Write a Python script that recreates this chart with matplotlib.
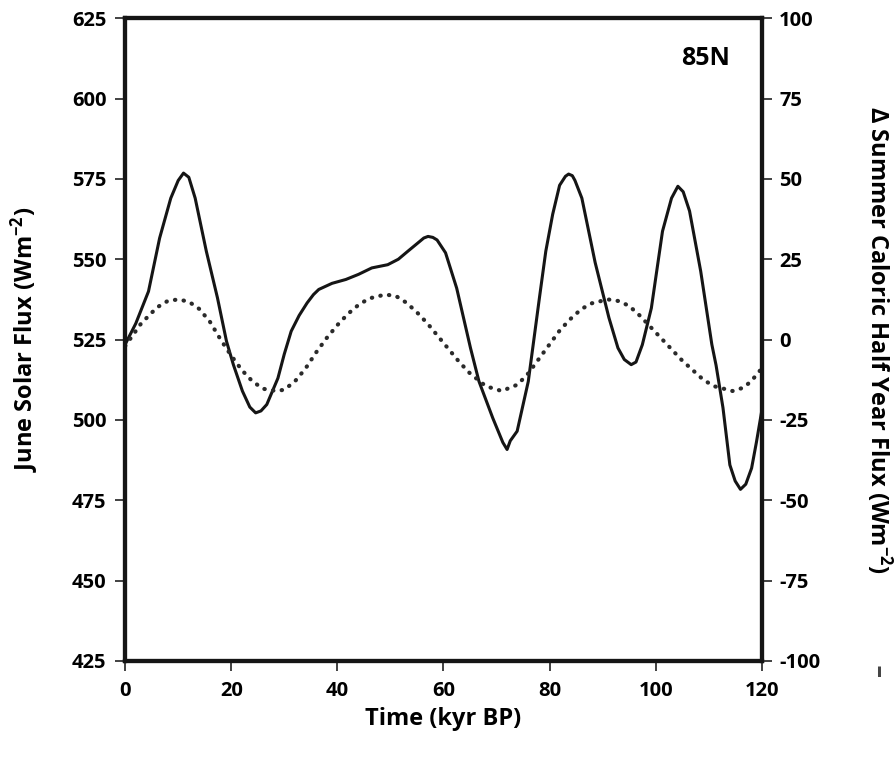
import matplotlib
matplotlib.use("Agg")
import matplotlib.pyplot as plt

plt.rcParams['font.family'] = ['Open Sans', 'DejaVu Sans']
plt.rcParams['font.weight'] = 'bold'
plt.rcParams['mathtext.default'] = 'regular'
plt.rcParams['axes.unicode_minus'] = False

# June solar flux at 85N (left axis)
june_kyr = [0, 2, 4.4, 6.5, 8.6, 10, 11.0, 12, 13.2, 15.3, 17.4, 19.1, 20.4, 22.1,
            23.5, 24.6, 25.6, 26.7, 28.8, 30, 31.3, 32.8, 34.3, 35.5, 36.5, 39,
            41.6, 44, 46.5, 49.5, 51.5, 53.3, 55.5, 56.3, 57.1, 58, 58.8, 60.4, 62.5,
            65.1, 66.7, 69.3, 71.2, 72.0, 72.6, 73.9, 76, 78.1, 79.3, 80.6, 81.9,
            83, 83.6, 84.3, 84.8, 86.1, 88.6, 91.2, 92.9, 94.1, 95.4, 96.3, 97.5,
            99.2, 101.3, 103, 104.2, 105.2, 106.4, 108.5, 110.6, 111.4, 112.7, 114,
            115, 116, 117, 118.1, 119, 120]
june_flux = [523.5, 530, 540, 556.6, 569, 574.5, 576.8, 575.5, 569, 552.5, 538, 524.5,
             517.2, 509, 504, 502.2, 502.8, 504.8, 513, 520.5, 527.6, 532.5, 536.4,
             539, 540.6, 542.5, 543.7, 545.3, 547.3, 548.3, 550, 552.5, 555.5, 556.6,
             557.1, 556.8, 556, 552, 541, 522.4, 512, 500.6, 493, 490.8, 493.5,
             496.5, 512, 538, 552.5, 564, 573, 575.8, 576.5, 576, 574.5, 569, 549,
             531.8, 522.4, 518.8, 517.2, 518, 523.4, 534.8, 558.7, 569, 572.7, 571,
             565, 546.3, 523.5, 517, 503.8, 486, 481, 478.4, 480, 485, 493, 502.7]

# delta summer caloric half year flux (right axis)
cal_kyr = [0, 3, 6, 8, 10, 12, 14, 16, 18, 20, 22, 24, 26, 28.5, 30, 32, 34, 36, 38,
           40, 42, 44, 46, 49, 51, 53, 55, 57, 59, 61, 63, 65, 68, 71, 74, 76, 78, 80,
           82, 84, 86, 88, 91, 93, 95, 97, 99, 101, 103, 105, 107, 109, 111, 114.5,
           116.5, 118, 120]
cal_flux = [-2, 5, 10, 12, 12.5, 11.8, 9.5, 5.5, 0, -5, -9.5, -13, -15.3, -16, -15.6,
            -13, -9, -4, 0.5, 4.5, 8, 10.8, 12.8, 14, 13.6, 11.5, 8.5, 5, 1, -3, -7,
            -10.5, -14.5, -16, -14, -10.5, -6, -1.5, 3, 6.5, 9.5, 11.3, 12.5, 12,
            10.5, 7.5, 4, 0.5, -3, -6.5, -9.5, -12.5, -14.5, -16, -15, -13, -9]

x_ticks = [0, 20, 40, 60, 80, 100, 120]
left_ticks = [425, 450, 475, 500, 525, 550, 575, 600, 625]
right_ticks = [-100, -75, -50, -25, 0, 25, 50, 75, 100]

fig = plt.figure(figsize=(8.94, 7.58), dpi=100)
ax = fig.add_axes([0.140, 0.128, 0.712, 0.848])
ax2 = ax.twinx()

ax.plot(june_kyr, june_flux, color='#151515', lw=2.2, solid_joinstyle='round')
ax2.plot(cal_kyr, cal_flux, color='#2a2a2a', lw=3.0, linestyle=(0, (0.1, 2.0)),
         dash_capstyle='round')

ax.set_xlim(0, 120)
ax.set_ylim(425, 625)
ax2.set_ylim(-100, 100)
ax.set_xticks(x_ticks)
ax.set_yticks(left_ticks)
ax2.set_yticks(right_ticks)

for a in (ax, ax2):
    for sp in a.spines.values():
        sp.set_linewidth(3.0)
        sp.set_color('#151515')
    a.tick_params(direction='out', length=7.5, width=1.3, color='#333333',
                  labelsize=14.5)
ax.tick_params(axis='y', pad=6)
ax.tick_params(axis='x', pad=7)
ax2.tick_params(axis='y', pad=5)

xl = ax.set_xlabel('Time (kyr BP)', fontsize=17, fontweight='bold')
ax.xaxis.set_label_coords(0.5, -0.091)
xl.set_va('center')

yl = ax.set_ylabel('June Solar Flux (Wm$^{-2}$)', fontsize=17, fontweight='bold')
ax.yaxis.set_label_coords(-0.158, 0.5)
yl.set_va('center')

yr = ax2.set_ylabel('\u0394 Summer Caloric Half Year Flux (Wm$^{-2}$)', fontsize=17,
                    fontweight='bold', rotation=-90)
ax2.yaxis.set_label_coords(1.185, 0.5)
yr.set_va('center')

ax.text(0.912, 0.938, '85N', transform=ax.transAxes, fontsize=18, fontweight='bold',
        ha='center', va='center')
fig.text(0.984, 0.116, '\u2013', fontsize=18, rotation=90, ha='center', va='center',
         color='#444444')

fig.savefig('out.png', dpi=100)
